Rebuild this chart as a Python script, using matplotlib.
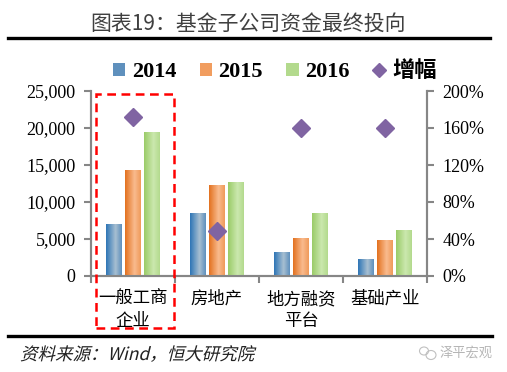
import matplotlib
matplotlib.use("Agg")
import matplotlib.pyplot as plt
import numpy as np
from matplotlib.colors import LinearSegmentedColormap
from matplotlib.font_manager import FontProperties
from matplotlib.lines import Line2D
from matplotlib.patches import Ellipse, PathPatch, Rectangle, Patch
from matplotlib.textpath import TextPath
from matplotlib.ticker import FuncFormatter, MultipleLocator
from matplotlib.transforms import Affine2D

plt.rcParams["font.family"] = ["Liberation Serif", "Noto Sans CJK SC"]

categories = ["一般工商\n企业", "房地产", "地方融资\n平台", "基础产业"]
years = ["2014", "2015", "2016"]
v2014 = [7000, 8500, 3200, 2300]
v2015 = [14300, 12300, 5200, 4900]
v2016 = [19500, 12700, 8500, 6200]
growth = [172, 49, 160, 160]  # %

# edge / light / mid colours for the gradient fill of each series
grad_colors = [
    ["#2e75b6", "#a7bfd1", "#5f90bd"],
    ["#e3711f", "#f9bb8e", "#f09a5a"],
    ["#9acb68", "#cbe8ae", "#b3da8d"],
]
legend_colors = ["#5f90bd", "#f19d5f", "#b3da8d"]
gray = "#868686"

W, H = 507, 372
fig = plt.figure(figsize=(W / 100, H / 100), dpi=100)
ax = fig.add_axes([91 / W, 1 - 276 / H, 336 / W, 185 / H])
ax2 = ax.twinx()

x = np.arange(len(categories))
width = 0.18
step = 0.226
series = [v2014, v2015, v2016]
grad = np.linspace(0, 1, 64).reshape(1, -1)
for i, vals in enumerate(series):
    bars = ax.bar(x + (i - 1) * step, vals, width, color=legend_colors[i], zorder=2)
    cmap = LinearSegmentedColormap.from_list(
        f"g{i}", [(0, grad_colors[i][0]), (0.6, grad_colors[i][1]), (1, grad_colors[i][2])]
    )
    for b in bars:
        im = ax.imshow(
            grad, cmap=cmap, aspect="auto", zorder=3,
            extent=[b.get_x(), b.get_x() + b.get_width(), 0, b.get_height()],
        )
        im.set_clip_path(b)

ax2.plot(x, growth, linestyle="none", marker="D", markersize=9,
         color="#8064a2", zorder=5)

ax.set_xlim(-0.5, len(categories) - 0.5)
ax.set_ylim(0, 25000)
ax2.set_ylim(0, 200)
ax.yaxis.set_major_locator(MultipleLocator(5000))
ax2.yaxis.set_major_locator(MultipleLocator(40))
ax.yaxis.set_major_formatter(FuncFormatter(lambda v, p: f"{int(v):,}"))
ax2.yaxis.set_major_formatter(FuncFormatter(lambda v, p: f"{int(v)}%"))

ax.set_xticks(np.arange(-0.5, len(categories), 1.0))
ax.set_xticklabels([])
ax.set_xticks(x, minor=True)
ax.set_xticklabels(categories, minor=True, fontsize=12.5, linespacing=1.3,
                   family=["Noto Sans CJK SC"])
ax.tick_params(axis="x", which="minor", length=0, pad=10)
ax.tick_params(axis="x", which="major", length=5, width=1.5, color=gray)
ax.tick_params(axis="y", length=5, width=1.5, color=gray, labelsize=13, pad=6)
ax2.tick_params(axis="y", length=5, width=1.5, color=gray, labelsize=13, pad=6)

for a in (ax, ax2):
    a.spines["top"].set_visible(False)
    for s in ("left", "right", "bottom"):
        a.spines[s].set_color(gray)
        a.spines[s].set_linewidth(1.5)

handles = [Patch(facecolor=c) for c in legend_colors]
handles.append(Line2D([], [], linestyle="none", marker="D", markersize=7, color="#8064a2"))
fig.legend(handles, years + ["增幅"], loc="center", bbox_to_anchor=(0.542, 1 - 72 / H),
           ncol=4, frameon=False, handlelength=0.55, handleheight=0.55,
           handletextpad=0.3, columnspacing=1.05,
           prop={"size": 16, "weight": "bold"})

# title and rules
fig.text(0.49, 1 - 24 / H, "图表19：基金子公司资金最终投向", ha="center", va="center",
         fontsize=15, color="#404040", family=["Noto Sans CJK SC"])
fig.add_artist(Line2D([8 / W, 490 / W], [1 - 38 / H] * 2, color="black", lw=2.4))
fig.add_artist(Line2D([8 / W, 492 / W], [1 - 336 / H] * 2, color="black", lw=2.4))

# red dashed highlight box
fig.add_artist(Rectangle((96 / W, 1 - 328 / H), 78 / W, 234 / H,
                         fill=False, edgecolor="#ff0000", lw=1.8,
                         linestyle=(0, (3.5, 2.2)), zorder=10))

# source line, slanted to look italic
src = TextPath((0, 0), "资料来源：Wind，恒大研究院", size=17.5,
               prop=FontProperties(family="Noto Sans CJK SC"))
fig.add_artist(PathPatch(src, transform=Affine2D().skew_deg(14, 0).translate(20, H - 360),
                         facecolor="#222222", edgecolor="none"))

# watermark
fig.add_artist(Ellipse((424 / W, 1 - 351 / H), 9 / W, 8 / H, fill=False,
                       edgecolor="#c0c0c0", lw=0.8))
fig.add_artist(Ellipse((431 / W, 1 - 355 / H), 10 / W, 9 / H, fill=False,
                       edgecolor="#c0c0c0", lw=0.8))
fig.text(492 / W, 1 - 353 / H, "泽平宏观", ha="right", va="center",
         fontsize=9.5, color="#b5b5b5", family=["Noto Sans CJK SC"])

fig.savefig("out.png", dpi=100)
